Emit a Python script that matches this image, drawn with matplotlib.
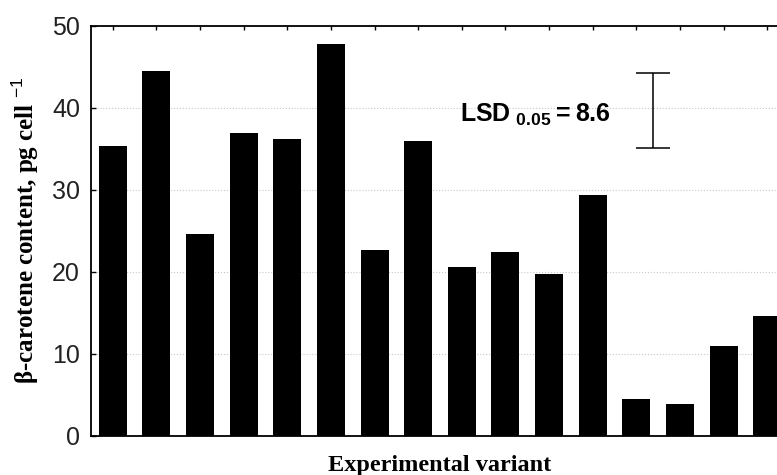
import numpy as np
import matplotlib
matplotlib.use('Agg')
from matplotlib import pyplot as plt

# bar heights (pg cell^-1)
variants = np.arange(16)
values = [35.3, 44.4, 24.6, 36.9, 36.1, 47.7, 22.6, 35.9,
          20.6, 22.4, 19.7, 29.3, 4.5, 3.9, 10.9, 14.6]
lsd_center = 39.6
lsd_half = 4.55
yticks = [0, 10, 20, 30, 40, 50]

plt.rcParams['mathtext.fontset'] = 'custom'
plt.rcParams['mathtext.rm'] = 'Liberation Sans'
plt.rcParams['mathtext.bf'] = 'Liberation Sans:bold'

fig = plt.figure(figsize=(7.77, 4.75), dpi=100)
ax = fig.add_axes([91/777, 39.5/475, 698/777, 410/475])

ax.bar(variants, values, width=0.64, color='black', zorder=3)

ax.set_xlim(-0.5, 15.5)
ax.set_ylim(0, 50)
ax.set_yticks(yticks)
ax.set_xticks(variants)

ax.grid(axis='y', linestyle=':', color='#c8c8c8', linewidth=0.8, zorder=0)
ax.grid(axis='x', visible=False)

ax.tick_params(axis='x', bottom=False, top=True, direction='in', length=3,
               width=1, labelbottom=False, labeltop=False)
ax.tick_params(axis='y', direction='in', length=3.5, width=1, pad=8,
               labelsize=18, labelcolor='#222222')
for lab in ax.get_yticklabels():
    lab.set_family('Liberation Sans')

for s in ['left', 'top', 'bottom']:
    ax.spines[s].set_linewidth(1.3)
ax.spines['right'].set_visible(False)

# LSD bar and label
ax.errorbar([12.38], [lsd_center], yerr=[lsd_half], fmt='none', ecolor='black',
            elinewidth=1.1, capsize=12.2, capthick=1.1, zorder=4)
ax.text(7.96, 38.3, r'$\mathbf{LSD}_{\ \mathbf{0.05}}\mathbf{=8.6}$',
        fontsize=18, ha='left', va='baseline')

ax.set_ylabel(r'β-carotene content, pg cell $^{-1}$', family='Liberation Serif',
              fontweight='bold', fontsize=18)
ax.yaxis.set_label_coords(-0.071, 0.5)
ax.set_xlabel('Experimental variant', family='Liberation Serif',
              fontweight='bold', fontsize=17.5)
ax.xaxis.set_label_coords((440 - 91) / 698, -0.048)

fig.savefig('out.png', dpi=100)
